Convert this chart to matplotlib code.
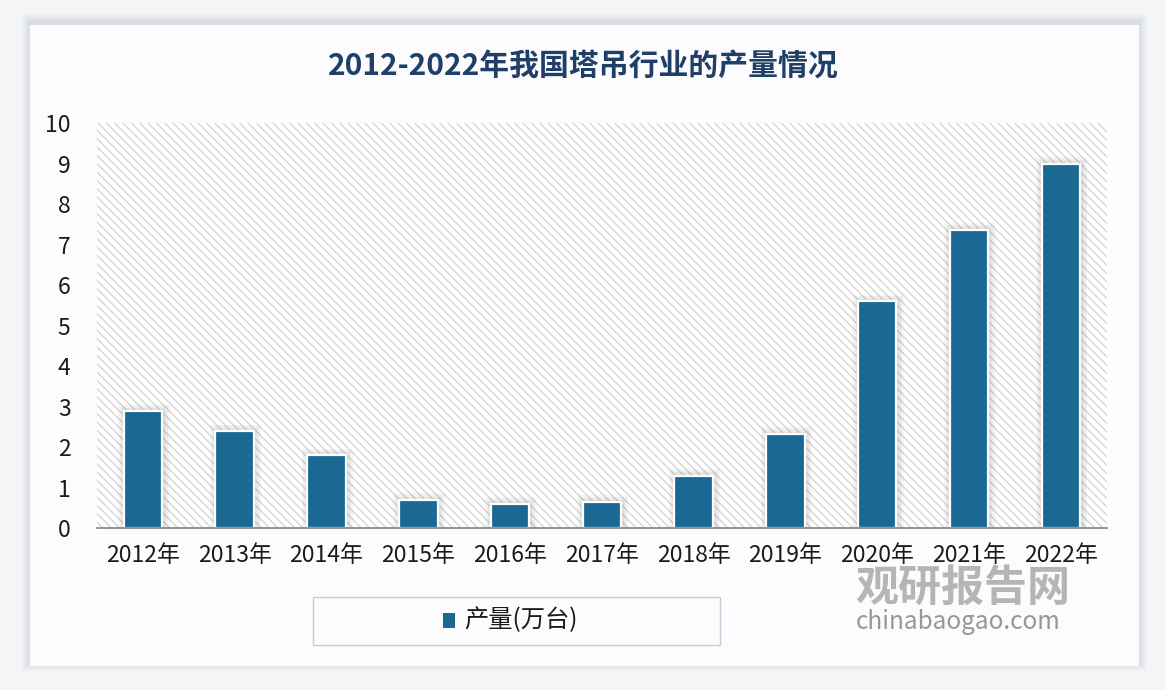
import matplotlib.pyplot as plt
from matplotlib.patches import Rectangle
import numpy as np

plt.rcParams['font.family'] = ['Noto Sans CJK SC', 'DejaVu Sans']
plt.rcParams['hatch.color'] = '#d2d2d2'
plt.rcParams['hatch.linewidth'] = 0.9

# data
years = ['2012年', '2013年', '2014年', '2015年', '2016年', '2017年',
         '2018年', '2019年', '2020年', '2021年', '2022年']
output = [2.9, 2.4, 1.8, 0.7, 0.6, 0.65, 1.3, 2.33, 5.6, 7.37, 9.0]
series_name = '产量(万台)'
title = '2012-2022年我国塔吊行业的产量情况'

W, H = 1166, 690
bar_color = '#1b6895'
title_color = '#1f3f68'

fig = plt.figure(figsize=(W / 100, H / 100), dpi=100)
fig.patch.set_facecolor('#f4f5f7')

# card with soft shadow
cx0, cy0, cx1, cy1 = 30, 25, 1139, 666
for k in range(8, 0, -1):
    fig.patches.append(Rectangle(((cx0 - k) / W, (H - cy1 - k + 3) / H),
                                 (cx1 - cx0 + 2 * k) / W, (cy1 - cy0 + 2 * k) / H,
                                 transform=fig.transFigure, facecolor='#9aa0aa',
                                 alpha=0.035, edgecolor='none', zorder=-3))
fig.patches.append(Rectangle((cx0 / W, (H - cy1) / H), (cx1 - cx0) / W, (cy1 - cy0) / H,
                             transform=fig.transFigure, facecolor='#fcfcfe',
                             edgecolor='none', zorder=-2))

# watermark (under the axes labels)
fig.text(963 / W, 1 - 588 / H, '观研报告网', ha='center', va='center', fontsize=31,
         fontweight='bold', color='#a4a4a4', alpha=0.8, zorder=-1)
fig.text(958 / W, 1 - 622 / H, 'chinabaogao.com', ha='center', va='center',
         fontsize=17.5, color='#8c8c8c', alpha=0.9, zorder=-1)

ax = fig.add_axes([97 / W, (H - 528.3) / H, 1009.7 / W, 405.3 / H])
ax.set_facecolor('none')
ax.set_xlim(-0.5, len(years) - 0.5)
ax.set_ylim(0, 10)

# hatched plot background
ax.add_patch(Rectangle((0, 0), 1, 1, transform=ax.transAxes, facecolor='white',
                       hatch='\\\\\\\\', edgecolor='#d2d2d2', linewidth=0, zorder=0))

x = np.arange(len(years))
width = 0.42
# bar shadows
for k in range(4, 0, -1):
    ax.bar(x + 0.01, np.array(output) + 0.04 * k, width=width + 0.035 * k,
           color='#707070', alpha=0.06, linewidth=0, zorder=1)
ax.bar(x, output, width=width, color=bar_color, edgecolor='white',
       linewidth=1.6, zorder=2)

for side in ['left', 'right', 'top']:
    ax.spines[side].set_visible(False)
ax.spines['bottom'].set_color('#8a8a8a')
ax.spines['bottom'].set_linewidth(1.3)
ax.spines['bottom'].set_zorder(3)

ax.set_yticks(range(0, 11))
ax.set_xticks(x)
ax.set_xticklabels(years)
ax.tick_params(axis='both', length=0, labelsize=16.5, colors='#1a1a1a')
ax.tick_params(axis='x', pad=11)
ax.tick_params(axis='y', pad=19)

fig.text(583 / W, 1 - 66 / H, title, ha='center', va='center', fontsize=21.5,
         fontweight='bold', color=title_color)

# legend box
fig.patches.append(Rectangle((313 / W, 1 - 645 / H), 407 / W, 48 / H,
                             transform=fig.transFigure, facecolor='none',
                             edgecolor='#c8ccd2', linewidth=1.0, zorder=2))
fig.patches.append(Rectangle((443 / W, 1 - 628 / H), 12 / W, 15 / H,
                             transform=fig.transFigure, facecolor=bar_color,
                             edgecolor='none', zorder=2))
fig.text(464 / W, 1 - 620 / H, series_name, ha='left', va='center', fontsize=17.5,
         color='#1a1a1a')

fig.savefig('out.png', dpi=100)
